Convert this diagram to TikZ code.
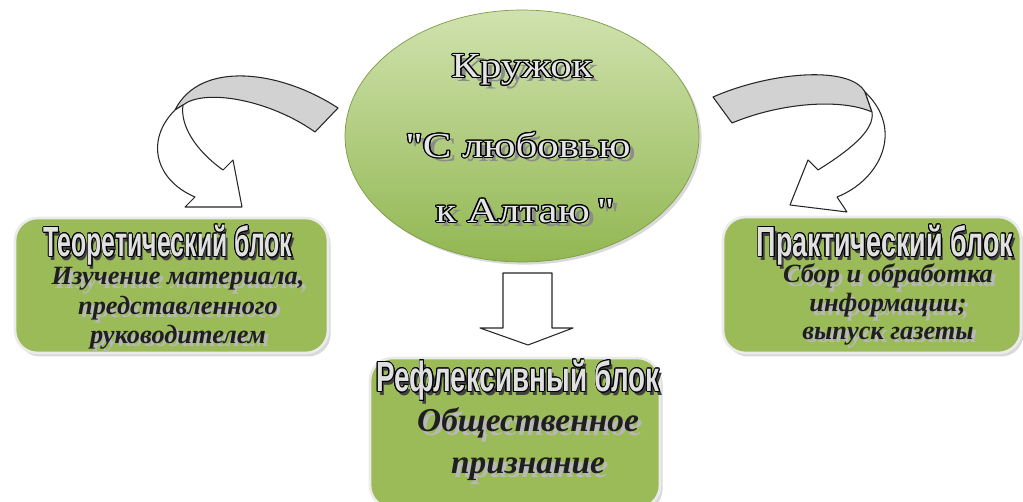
\documentclass[tikz,border=0pt]{standalone}
\usepackage{fontspec}
\setmainfont{Liberation Serif}
\newfontfamily\kopffont{Liberation Sans}
\newfontfamily\ovalfont{Liberation Serif}
\usepackage{contour}
\contourlength{0.6pt}
\usetikzlibrary{shapes.geometric,shadows}

\definecolor{blockgreen}{HTML}{9BBB59}
\definecolor{ovaltop}{RGB}{208,226,174}
\definecolor{ovalbottom}{RGB}{146,183,82}
\definecolor{ribbon}{RGB}{210,210,210}

% Texte mit Schatten
\newcommand{\kopftext}[2][0.58]{\scalebox{#1}[1]{\rlap{\kern2pt\raisebox{-2pt}{\textcolor{black!75}{#2}}}\textcolor{white!88!black}{\contour{black}{#2}}}}
\newcommand{\kursivtext}[1]{\rlap{\kern2pt\raisebox{-2pt}{\textcolor{black!28}{#1}}}\textcolor{black!88}{#1}}
\newcommand{\ovaltext}[1]{\scalebox{1.22}[1]{\rlap{\kern2.5pt\raisebox{-2.5pt}{\textcolor{black!45}{#1}}}\textcolor{white!90!black}{\contour{black}{#1}}}}

\begin{document}
\begin{tikzpicture}[x=0.02cm, y=-0.02cm]
	\tikzstyle{block} = [
		rectangle, rounded corners=0.45cm, fill=blockgreen, draw=white!92!black, line width=1.5pt,
		drop shadow={shadow xshift=1.5pt, shadow yshift=-2pt, opacity=0.3}
	]
	\tikzstyle{kopf} = [
		inner sep=0, font=\kopffont\bfseries\fontsize{24}{26}\selectfont
	]
	\tikzstyle{kursiv} = [
		inner sep=0, align=center, font=\bfseries\itshape\fontsize{15}{15.5}\selectfont
	]
	\tikzstyle{oval} = [
		inner sep=0, font=\ovalfont\fontsize{20}{22}\selectfont
	]
	\tikzstyle{pfeil} = [
		draw=black!85, line width=0.6pt, line join=round
	]

	\useasboundingbox (0,0) rectangle (1023,502);

	% Oval
	\node (kruzhok) [ellipse, minimum width=7.08cm, minimum height=5.04cm, top color=ovaltop, bottom color=ovalbottom,
		draw=ovalbottom!85!black, thin, drop shadow={shadow xshift=1.5pt, shadow yshift=-1.5pt, opacity=0.3}] at (522,136) {};
	\node (kruzhok_1) [oval] at (522,72) {\ovaltext{Кружок}};
	\node (kruzhok_2) [oval] at (518,147) {\ovaltext{"С любовью}};
	\node (kruzhok_3) [oval] at (525,213) {\ovaltext{к Алтаю\,"}};

	% Theoretischer Block
	\node (theorie) [block, minimum width=6.26cm, minimum height=2.7cm] at (171.5,285.5) {};
	\node (theorie_kopf) [kopf] at (168,247) {\kopftext[0.59]{Теоретический блок}};
	\node (theorie_text) [kursiv] at (178,310) {\kursivtext{Изучение материала,}\\ \kursivtext{представленного}\\ \kursivtext{руководителем}};

	% Praktischer Block
	\node (praxis) [block, minimum width=5.96cm, minimum height=2.72cm] at (872,285) {};
	\node (praxis_kopf) [kopf] at (885,247) {\kopftext[0.64]{Практический блок}};
	\node (praxis_text) [kursiv] at (888,306) {\kursivtext{Сбор и обработка}\\ \kursivtext{информации;}\\ \kursivtext{выпуск газеты}};

	% Reflexiver Block
	\node (reflex) [block, minimum width=5.8cm, minimum height=3cm] at (515,433) {};
	\node (reflex_kopf) [kopf] at (518,382) {\kopftext[0.66]{Рефлексивный блок}};
	\node (reflex_text) [kursiv, font=\bfseries\itshape\fontsize{19}{23.8}\selectfont] at (528,446) {\kursivtext{Общественное}\\ \kursivtext{признание}};

	% Pfeil links
	\draw[pfeil, fill=ribbon] (338,108) .. controls (280,70) and (200,60) .. (175,110) -- (183,105)
		.. controls (205,88) and (270,100) .. (315,132) -- cycle;
	\draw[pfeil, fill=white] (175,110) .. controls (145,140) and (155,180) .. (195,197) -- (185,207) -- (242,207)
		-- (233,160) -- (223,170) .. controls (195,150) and (180,125) .. (183,105) -- cycle;

	% Pfeil rechts
	\draw[pfeil, fill=ribbon] (713,97) .. controls (770,72) and (850,65) .. (865,92) -- (872,112)
		.. controls (840,98) and (780,103) .. (732,123) -- cycle;
	\draw[pfeil, fill=white] (865,92) .. controls (905,130) and (880,180) .. (837,197) -- (847,212) -- (790,205)
		-- (808,160) -- (818,170) .. controls (850,150) and (875,130) .. (872,112) -- cycle;

	% Pfeil unten
	\draw[pfeil, fill=white] (503,273) -- (552,273) -- (552,328) -- (573,328) -- (528,345) -- (480,328) -- (503,328) -- cycle;

\end{tikzpicture}
\end{document}
